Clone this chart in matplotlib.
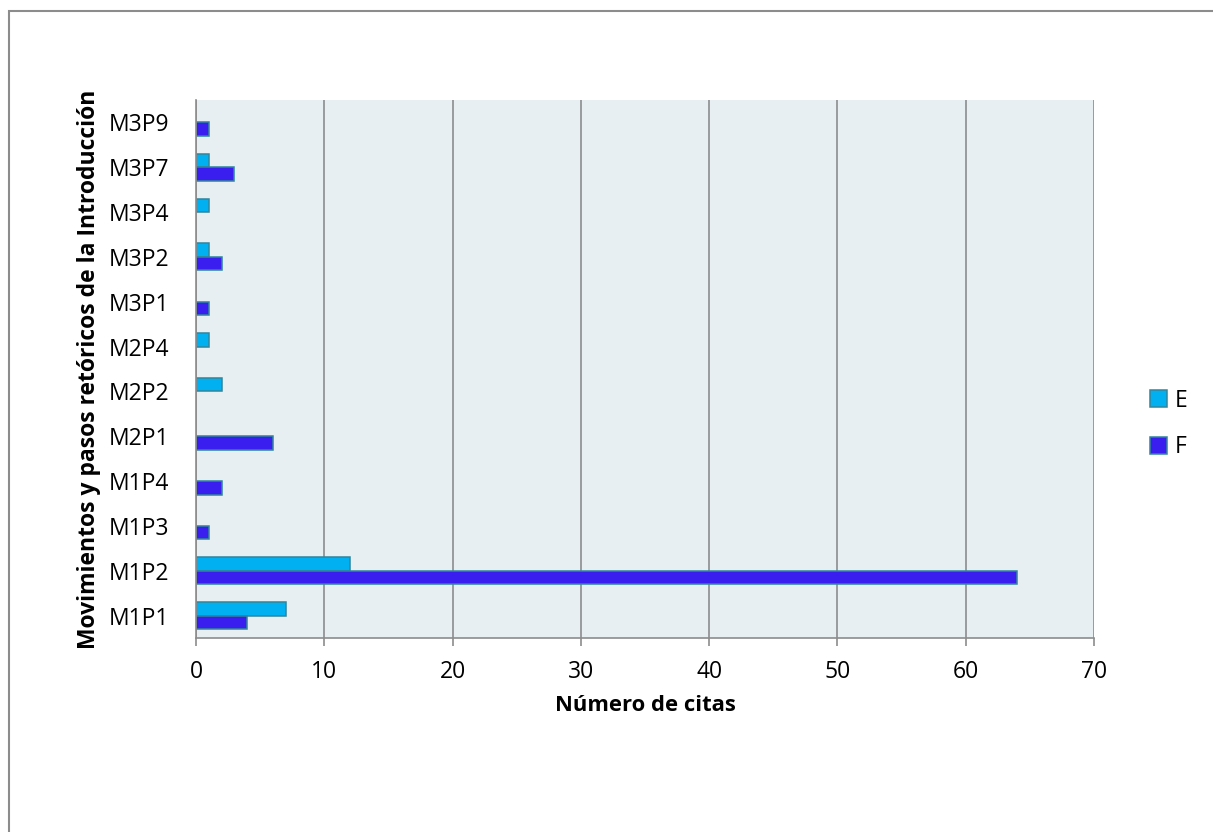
import numpy as np
import matplotlib.pyplot as plt
from matplotlib.patches import Rectangle

# data (bottom to top)
categories = ['M1P1', 'M1P2', 'M1P3', 'M1P4', 'M2P1', 'M2P2', 'M2P4', 'M3P1', 'M3P2', 'M3P4', 'M3P7', 'M3P9']
valuesE = [7, 12, 0, 0, 0, 2, 1, 0, 1, 1, 1, 0]
valuesF = [4, 64, 1, 2, 6, 0, 0, 1, 2, 0, 3, 1]
xticks = [0, 10, 20, 30, 40, 50, 60, 70]

plt.rcParams['font.family'] = ['Open Sans', 'DejaVu Sans']

W, H = 1213, 832
fig = plt.figure(figsize=(W/100, H/100), dpi=100)
# outer chart border (runs off the right and bottom edges)
fig.patches.append(Rectangle((9/W, -0.1), 1.2, (H-11)/H + 0.1, transform=fig.transFigure,
                             fill=False, edgecolor='#8c8c8c', linewidth=1.5))
ax = fig.add_axes([196/W, 1-638/H, (1094-196)/W, (638-100)/H])
ax.set_facecolor('#e8eff3')

y = np.arange(len(categories))
h = 0.3
edge = '#31859c'
barsE = ax.barh(y + h/2, valuesE, height=h, color='#00b0f0', edgecolor=edge, linewidth=1.1, label='E')
barsF = ax.barh(y - h/2, valuesF, height=h, color='#3a1ef0', edgecolor=edge, linewidth=1.1, label='F')
# hide the zero-length bars
for b, v in zip(list(barsE) + list(barsF), valuesE + valuesF):
    if v == 0:
        b.set_visible(False)

ax.set_xlim(0, 70)
ax.set_ylim(-0.5, len(categories) - 0.5)
ax.set_xticks(xticks)
ax.set_yticks(y)
ax.set_yticklabels(categories)
ax.xaxis.grid(True, color='#8c8c8c', linewidth=1.2)
ax.set_axisbelow(True)
for s in ['top', 'right']:
    ax.spines[s].set_visible(False)
for s in ['left', 'bottom']:
    ax.spines[s].set_color('#8c8c8c')
    ax.spines[s].set_linewidth(1.2)
ax.tick_params(axis='x', length=6, color='#8c8c8c', width=1.2, labelsize=16.5, pad=10)
ax.tick_params(axis='y', length=0, labelsize=16.5, pad=19)

ax.set_xlabel('Número de citas', fontsize=15.8, fontweight='bold', labelpad=8)
ax.set_ylabel('Movimientos y pasos retóricos de la Introducción', fontsize=16.5, fontweight='bold', labelpad=6)

ax.legend(loc='center left', bbox_to_anchor=(1150/W, 1-424/H), bbox_transform=fig.transFigure,
          frameon=False, fontsize=16.5, borderpad=0, borderaxespad=0,
          handlelength=0.72, handleheight=0.72, labelspacing=1.0, handletextpad=0.35)

fig.savefig('out.png', dpi=100)
